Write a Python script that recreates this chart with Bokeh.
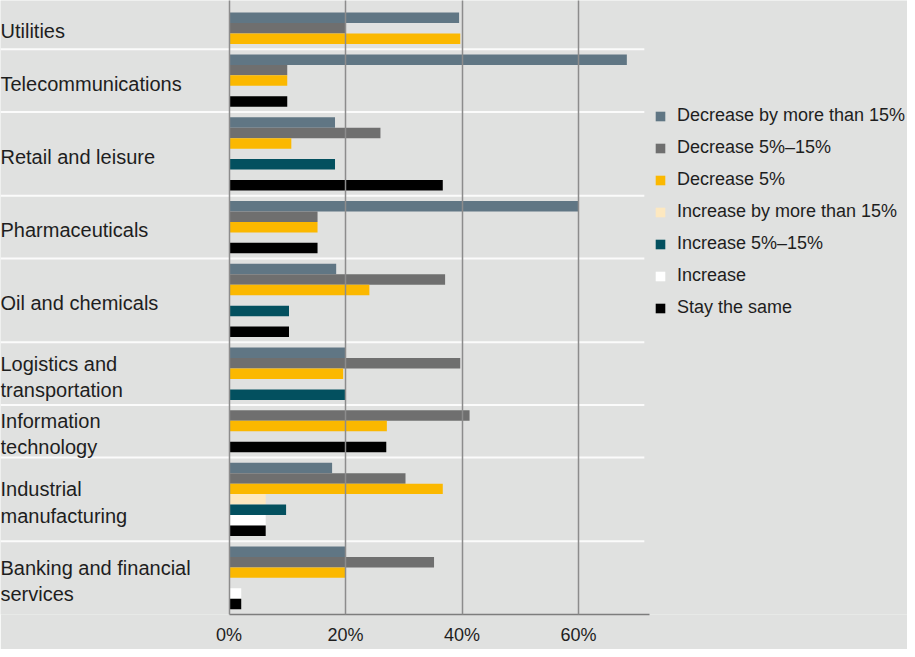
from bokeh.plotting import figure
from bokeh.models import (ColumnDataSource, Range1d, FixedTicker, PrintfTickFormatter,
                          Legend, LegendItem)
from bokeh.core.properties import value
from bokeh.embed import file_html
from bokeh.resources import INLINE

# ---------------- data ----------------
categories = [
    "Utilities",
    "Telecommunications",
    "Retail and leisure",
    "Pharmaceuticals",
    "Oil and chemicals",
    "Logistics and\ntransportation",
    "Information\ntechnology",
    "Industrial\nmanufacturing",
    "Banking and financial\nservices",
]

series_names = [
    "Decrease by more than 15%",
    "Decrease 5%\u201315%",
    "Decrease 5%",
    "Increase by more than 15%",
    "Increase 5%\u201315%",
    "Increase",
    "Stay the same",
]

decrease_gt15 = [39.5, 68.3, 18.2, 60.0, 18.4, 20.0, None, 17.7, 20.0]
decrease_5_15 = [20.0, 10.0, 26.0, 15.2, 37.1, 39.7, 41.3, 30.3, 35.2]
decrease_5 = [39.7, 10.0, 10.7, 15.2, 24.1, 19.6, 27.1, 36.7, 20.0]
increase_gt15 = [None, None, None, None, None, None, None, 6.3, None]
increase_5_15 = [None, None, 18.2, None, 10.3, 20.0, None, 9.8, None]
increase = [None, None, None, None, None, None, None, 6.3, 2.1]
stay_same = [None, 10.0, 36.7, 15.2, 10.3, None, 27.0, 6.3, 2.1]

tick_values = [0, 20, 40, 60]

# ---------------- styles ----------------
colors = ["#607684", "#6f6f6f", "#fbb800", "#fde8c0", "#03505f", "#ffffff", "#000000"]
BG = "#e0e1e0"
FONT = "Liberation Sans"
TEXT_COLOR = "#1e1e1e"

series = [decrease_gt15, decrease_5_15, decrease_5, increase_gt15,
          increase_5_15, increase, stay_same]

# ---------------- layout (slot units, top-down) ----------------
TOP_PAD = 1.15
PAD = 0.5
bar_pos = [[None] * len(categories) for _ in series]
label_t = []
sep_t = []
t = 0.0
for ci in range(len(categories)):
    if ci > 0:
        t += PAD
    present = [k for k in range(len(series)) if series[k][ci] is not None]
    start = t
    prev = None
    for k in present:
        if prev is not None and k - prev > 1:
            t += 1.0  # one empty slot for any run of missing series
        bar_pos[k][ci] = t + 0.5
        t += 1.0
        prev = k
    label_t.append((start + t) / 2)
    t += PAD
    if ci < len(categories) - 1:
        sep_t.append(t)
total = t

# x scale: frame spans full figure width
PX_PER_UNIT = 5.825
ZERO_PX = 228.5
W, H = 907, 649
x_start = -ZERO_PX / PX_PER_UNIT
x_end = (W - ZERO_PX) / PX_PER_UNIT
axis_end = 72.2
sep_end = 71.3

p = figure(width=W, height=H, output_backend="svg", toolbar_location=None,
           x_range=Range1d(x_start, x_end), y_range=Range1d(-total, TOP_PAD),
           y_axis_location=None, min_border_left=0, min_border_right=0,
           min_border_top=0, min_border_bottom=35)
p.background_fill_color = BG
p.border_fill_color = BG
p.outline_line_color = None
p.ygrid.visible = False

# separators
p.segment(x0=[x_start] * len(sep_t), x1=[sep_end] * len(sep_t),
          y0=[-s for s in sep_t], y1=[-s for s in sep_t],
          line_color="#fbfbfb", line_width=2, level="underlay")

# bars
items = []
for k, vals in enumerate(series):
    ys = [-bar_pos[k][ci] for ci in range(len(categories)) if vals[ci] is not None]
    xs = [vals[ci] for ci in range(len(categories)) if vals[ci] is not None]
    src = ColumnDataSource(dict(y=ys, right=xs))
    r = p.hbar(y="y", left=0, right="right", height=1.0, source=src,
               fill_color=colors[k], line_color=None)
    items.append(LegendItem(label=series_names[k], renderers=[r]))

# category labels
p.text(x=[x_start] * len(categories), y=[-v for v in label_t], text=categories,
       text_font=value(FONT), text_font_size="20px", text_color=TEXT_COLOR,
       text_align="left", text_baseline="middle", text_line_height=1.2,
       y_offset=3)

# grid
p.xgrid.ticker = FixedTicker(ticks=tick_values)
p.xgrid.grid_line_color = "#8c8c8c"
p.xgrid.grid_line_width = 1.5
p.xgrid.level = "annotation"

# x axis
ax = p.xaxis[0]
ax.ticker = FixedTicker(ticks=tick_values)
ax.formatter = PrintfTickFormatter(format="%d%%")
ax.bounds = (0, axis_end)
ax.axis_line_color = "#7d7d7d"
ax.axis_line_width = 1.5
ax.major_tick_line_color = None
ax.minor_tick_line_color = None
ax.major_tick_out = 0
ax.major_tick_in = 0
ax.minor_tick_out = 0
ax.major_label_standoff = 10
ax.major_label_text_font = FONT
ax.major_label_text_font_size = "18px"
ax.major_label_text_color = TEXT_COLOR

# legend
legend = Legend(items=items, location=(654, 296), orientation="vertical",
                glyph_width=12, glyph_height=12, label_height=20, spacing=11,
                label_standoff=11, padding=0, margin=0,
                border_line_color=None, background_fill_alpha=0,
                label_text_font=FONT, label_text_font_size="18px",
                label_text_color=TEXT_COLOR)
p.add_layout(legend)

open("out.html", "w").write(file_html(p, INLINE))
